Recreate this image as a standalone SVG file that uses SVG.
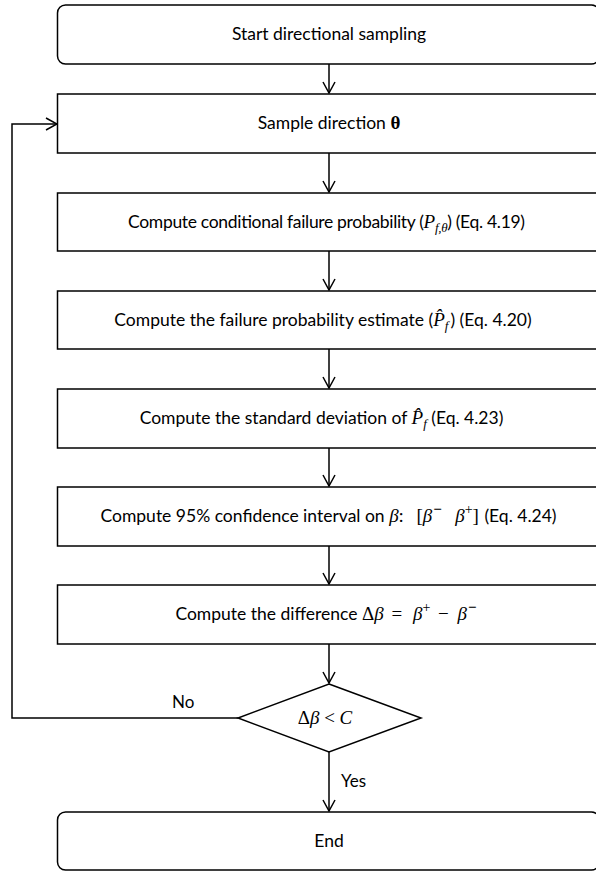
<svg xmlns="http://www.w3.org/2000/svg" width="596" height="873" viewBox="0 0 596 873">
  <style>
    .box { fill: #ffffff; stroke: #000000; stroke-width: 1.5; }
    .wire { fill: none; stroke: #000000; stroke-width: 1.5; }
    .t { font-family: Lato, "Liberation Sans", sans-serif; font-size: 17.5px; fill: #000000; text-anchor: middle; }
    .lbl { font-family: Lato, "Liberation Sans", sans-serif; font-size: 17px; fill: #000000; }
    .m { font-family: "Liberation Serif", "DejaVu Serif", serif; font-style: italic; font-size: 19px; }
    .mu { font-family: "Liberation Serif", "DejaVu Serif", serif; font-size: 19px; }
    .mb { font-family: "Liberation Serif", "DejaVu Serif", serif; font-weight: bold; font-size: 19px; }
    .s { font-family: "Liberation Serif", "DejaVu Serif", serif; font-style: italic; font-size: 13px; }
    .su { font-family: "Liberation Serif", "DejaVu Serif", serif; font-size: 14px; }
    .sm { font-family: "Liberation Serif", "DejaVu Serif", serif; font-size: 15px; font-weight: bold; }
  </style>
  <defs>
    <marker id="arrow" markerUnits="userSpaceOnUse" markerWidth="14" markerHeight="14" viewBox="0 0 14 14" refX="13" refY="7" orient="auto">
      <path d="M2,1 L13,7 L2,13" fill="none" stroke="#000000" stroke-width="1.5"/>
    </marker>
  </defs>

  <g id="connectors">
    <path class="wire" d="M329,64 V93" marker-end="url(#arrow)"/>
    <path class="wire" d="M329,153 V192" marker-end="url(#arrow)"/>
    <path class="wire" d="M329,251 V290" marker-end="url(#arrow)"/>
    <path class="wire" d="M329,349 V388" marker-end="url(#arrow)"/>
    <path class="wire" d="M329,448 V486" marker-end="url(#arrow)"/>
    <path class="wire" d="M329,546 V584" marker-end="url(#arrow)"/>
    <path class="wire" d="M329,644 V683" marker-end="url(#arrow)"/>
    <path class="wire" d="M329,752 V811" marker-end="url(#arrow)"/>
    <path class="wire" d="M238,718 H12 V124 H57" marker-end="url(#arrow)"/>
    <text class="lbl" x="172" y="708">No</text>
    <text class="lbl" x="341" y="787">Yes</text>
  </g>

  <g id="start">
    <rect class="box" x="57.5" y="5" width="542" height="59" rx="8"/>
    <text class="t" x="329" y="40">Start directional sampling</text>
  </g>

  <g id="sample-direction">
    <rect class="box" x="57.5" y="94" width="542" height="59"/>
    <text class="t" x="329" y="129">Sample direction <tspan class="mb">θ</tspan></text>
  </g>

  <g id="conditional-probability">
    <rect class="box" x="57.5" y="193" width="542" height="58"/>
    <text class="t" x="326.5" y="227.5" textLength="397" lengthAdjust="spacing">Compute conditional failure probability (<tspan class="m">P</tspan><tspan class="s" dy="4">f,θ</tspan><tspan dy="-4">) (Eq. 4.19)</tspan></text>
  </g>

  <g id="probability-estimate">
    <rect class="box" x="57.5" y="291" width="542" height="58"/>
    <text class="t" x="323" y="325.5">Compute the failure probability estimate (<tspan class="m">P̂</tspan><tspan class="s" dy="4">f</tspan><tspan dy="-4" dx="2">) (Eq. 4.20)</tspan></text>
  </g>

  <g id="standard-deviation">
    <rect class="box" x="57.5" y="389" width="542" height="59"/>
    <text class="t" x="321.5" y="424">Compute the standard deviation of <tspan class="m">P̂</tspan><tspan class="s" dy="4">f</tspan><tspan dy="-4">  (Eq. 4.23)</tspan></text>
  </g>

  <g id="confidence-interval">
    <rect class="box" x="57.5" y="487" width="542" height="59"/>
    <text class="t" x="328.5" y="522" xml:space="preserve">Compute 95% confidence interval on <tspan class="m">β</tspan><tspan class="mu">:  </tspan><tspan class="mu" dx="3">[</tspan><tspan class="m">β</tspan><tspan class="sm" dy="-8" dx="1">−</tspan><tspan class="mu" dy="8" dx="4">  </tspan><tspan class="m">β</tspan><tspan class="su" dy="-8">+</tspan><tspan class="mu" dy="8">]</tspan><tspan dx="1"> (Eq. 4.24)</tspan></text>
  </g>

  <g id="difference">
    <rect class="box" x="57.5" y="585" width="542" height="59"/>
    <text class="t" x="326" y="620" xml:space="preserve">Compute the difference <tspan class="mu">Δ</tspan><tspan class="m">β</tspan><tspan class="mu" dx="3"> = </tspan><tspan class="m" dx="6">β</tspan><tspan class="su" dy="-8">+</tspan><tspan class="mu" dy="8" dx="3"> − </tspan><tspan class="m" dx="4">β</tspan><tspan class="sm" dy="-8" dx="1">−</tspan></text>
  </g>

  <g id="convergence-check">
    <polygon class="box" points="329,684 421,718 329,752 238,718"/>
    <text class="t" x="325" y="724" xml:space="preserve"><tspan class="mu">Δ</tspan><tspan class="m">β</tspan><tspan class="mu"> &lt; </tspan><tspan class="m">C</tspan></text>
  </g>

  <g id="end">
    <rect class="box" x="57.5" y="812" width="542" height="58" rx="8"/>
    <text class="t" x="329" y="847">End</text>
  </g>
</svg>
